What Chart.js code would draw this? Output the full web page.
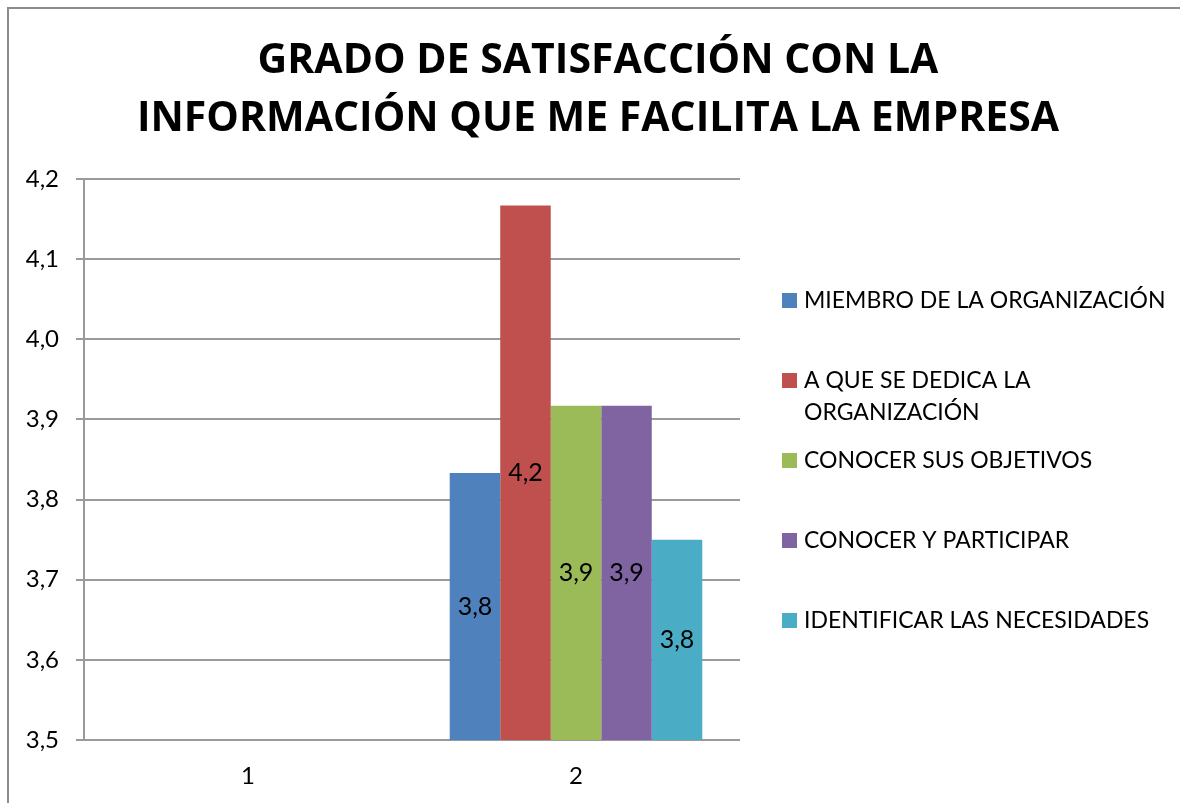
<!DOCTYPE html>
<html>
<head>
<meta charset="utf-8">
<script src="https://cdn.jsdelivr.net/npm/chart.js@4.4.1/dist/chart.umd.min.js"></script>
<style>
  html, body { margin: 0; padding: 0; background: #fff; }
  .wrap { width: 1180px; height: 803px; }
</style>
</head>
<body>
<div class="wrap"><canvas id="chart"></canvas></div>
<script>
const categories = ['1', '2'];
const seriesNames = [
  'MIEMBRO DE LA ORGANIZACIÓN',
  'A QUE SE DEDICA LA ORGANIZACIÓN',
  'CONOCER SUS OBJETIVOS',
  'CONOCER Y PARTICIPAR',
  'IDENTIFICAR LAS NECESIDADES'
];
const miembro = [null, 3.833];
const dedica = [null, 4.167];
const objetivos = [null, 3.917];
const participar = [null, 3.917];
const necesidades = [null, 3.75];
const colors = ['#4F81BD', '#C0504D', '#9BBB59', '#8064A2', '#4BACC6'];
const titleLines = ['GRADO DE SATISFACCIÓN CON LA', 'INFORMACIÓN QUE ME FACILITA LA EMPRESA'];
const yTicks = { min: 3.5, max: 4.2, step: 0.1 };

const FONT = 'Lato, "Open Sans", sans-serif';
const TITLE_FONT = '"Open Sans", Lato, sans-serif';
const fmt = v => Number(v).toFixed(1).replace('.', ',');

// grey frame round the whole chart + the two-line title, centred on the page
const frame = {
  id: 'frame',
  afterDraw(chart) {
    const ctx = chart.ctx;
    ctx.save();
    ctx.strokeStyle = '#8c8c8c';
    ctx.lineWidth = 2;
    ctx.strokeRect(8, 8, chart.width + 20, chart.height + 20);
    ctx.fillStyle = '#000';
    ctx.font = 'bold 41px ' + TITLE_FONT;
    ctx.textAlign = 'center';
    ctx.textBaseline = 'alphabetic';
    titleLines.forEach((t, i) => ctx.fillText(t, chart.width / 2 + 8, 73 + i * 58));
    ctx.restore();
  }
};

// value in the middle of the visible part of each bar
// (the bar base sits at 0, far under the axis minimum, so clamp it)
const barLabels = {
  id: 'barLabels',
  afterDatasetsDraw(chart) {
    const { ctx, chartArea } = chart;
    ctx.save();
    ctx.font = '25px ' + FONT;
    ctx.fillStyle = '#000';
    ctx.textAlign = 'center';
    ctx.textBaseline = 'middle';
    chart.data.datasets.forEach((ds, i) => {
      chart.getDatasetMeta(i).data.forEach((bar, j) => {
        if (ds.data[j] == null) return;
        const base = Math.min(bar.base, chartArea.bottom);
        ctx.fillText(fmt(ds.data[j]), bar.x, (bar.y + base) / 2);
      });
    });
    ctx.restore();
  }
};

// legend on the right, wrapped text, items 80px apart
const sideLegend = {
  id: 'sideLegend',
  afterDraw(chart) {
    const { ctx, chartArea } = chart;
    const boxX = chartArea.right + 42;
    const textX = boxX + 22;
    const maxW = chart.width - textX - 6;
    const mid = (chartArea.top + chartArea.bottom) / 2;
    ctx.save();
    ctx.font = '23px ' + FONT;
    ctx.textBaseline = 'middle';
    chart.data.datasets.forEach((ds, i) => {
      const y = mid + (i - 2) * 80 + 1;
      ctx.fillStyle = ds.backgroundColor;
      ctx.fillRect(boxX, y - 7.5, 15, 15);
      ctx.fillStyle = '#000';
      const words = ds.label.split(' ');
      let line = '', k = 0;
      words.forEach(w => {
        const test = line ? line + ' ' + w : w;
        if (line && ctx.measureText(test).width > maxW) {
          ctx.fillText(line, textX, y + k * 32);
          k++;
          line = w;
        } else {
          line = test;
        }
      });
      ctx.fillText(line, textX, y + k * 32);
    });
    ctx.restore();
  }
};

const seriesValues = [miembro, dedica, objetivos, participar, necesidades];

new Chart(document.getElementById('chart'), {
  type: 'bar',
  data: {
    labels: categories,
    datasets: seriesNames.map((name, i) => ({
      label: name,
      data: seriesValues[i],
      backgroundColor: colors[i],
      borderWidth: 0,
      categoryPercentage: 0.77,
      barPercentage: 1
    }))
  },
  options: {
    responsive: true,
    maintainAspectRatio: false,
    animation: false,
    layout: { padding: { top: 179, right: 440, bottom: 13, left: 0 } },
    plugins: {
      legend: { display: false },
      tooltip: { enabled: false },
      title: { display: false }
    },
    scales: {
      x: {
        afterFit(scale) { scale.height = 50; },
        grid: { display: false, drawTicks: false },
        border: { display: false },
        ticks: { color: '#000', font: { family: FONT, size: 24 }, padding: 22 }
      },
      y: {
        min: yTicks.min,
        max: yTicks.max,
        afterFit(scale) { scale.width = 84; },
        grid: { color: '#9a9a9a', lineWidth: 2, tickLength: 8 },
        border: { display: true, color: '#9a9a9a', width: 2 },
        ticks: {
          stepSize: yTicks.step,
          color: '#000',
          padding: 17,
          font: { family: FONT, size: 24 },
          callback: v => fmt(v)
        }
      }
    }
  },
  plugins: [frame, barLabels, sideLegend]
});
</script>
</body>
</html>
